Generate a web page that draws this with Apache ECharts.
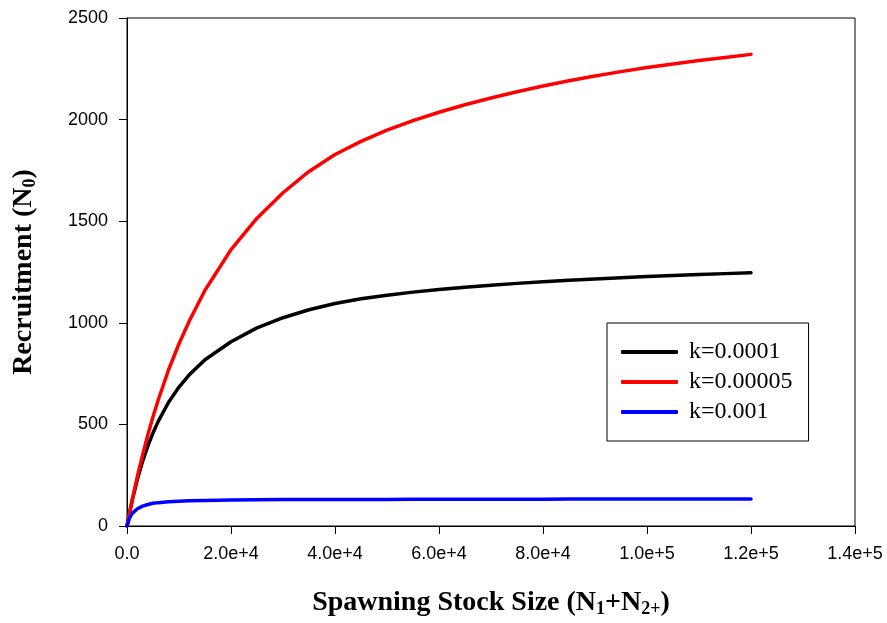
<!DOCTYPE html>
<html>
<head>
<meta charset="utf-8">
<title>Recruitment vs Spawning Stock Size</title>
<script src="https://cdn.jsdelivr.net/npm/echarts@6/dist/echarts.min.js"></script>
<style>
  html, body { margin: 0; padding: 0; background: #fff; }
  #chart { width: 887px; height: 623px; }
</style>
</head>
<body>
<div id="chart"></div>
<script>
// Spawning stock size (N1+N2+) at which recruitment was recorded
const stockSize = [0, 500, 1000, 2000, 3000, 4000, 5000, 6000, 8000, 10000, 12000, 15000,
  20000, 25000, 30000, 35000, 40000, 45000, 50000, 55000, 60000, 65000, 70000, 75000,
  80000, 85000, 90000, 95000, 100000, 105000, 110000, 115000, 120000];

// Recruitment (N0) for each density-dependence coefficient k
const recK0001 = [0, 66, 126, 230, 318, 393, 458, 515, 609, 684, 745, 818,
  907, 975, 1025, 1064, 1095, 1118, 1136, 1151, 1164, 1175, 1185, 1194,
  1202, 1209, 1216, 1222, 1228, 1233, 1238, 1242, 1246];
const recK00005 = [0, 65, 128, 244, 350, 448, 538, 620, 769, 897, 1010, 1160,
  1360, 1515, 1640, 1745, 1828, 1893, 1948, 1995, 2036, 2073, 2106, 2137,
  2165, 2191, 2215, 2236, 2256, 2274, 2291, 2306, 2321];
const recK001 = [0, 40, 62, 85, 98, 106, 112, 115, 119, 122, 124, 126,
  128, 129, 130, 130, 131, 131, 131, 132, 132, 132, 132, 132,
  132, 133, 133, 133, 133, 133, 133, 133, 133];

const seriesNames = ['k=0.0001', 'k=0.00005', 'k=0.001'];
const seriesColors = ['#000000', '#ff0000', '#0000ff'];
const seriesValues = [recK0001, recK00005, recK001];

// Axis tick labels
const xTickLabels = ['0.0', '2.0e+4', '4.0e+4', '6.0e+4', '8.0e+4', '1.0e+5', '1.2e+5', '1.4e+5'];
const xTickStep = 20000;
const yTickLabels = ['0', '500', '1000', '1500', '2000', '2500'];
const yTickStep = 500;

const chart = echarts.init(document.getElementById('chart'), null, { renderer: 'canvas' });

const tickFont = { fontFamily: 'Liberation Sans, Arial, sans-serif', fontSize: 18, color: '#000' };
const titleFont = 'Liberation Serif, Times New Roman, serif';
const subStyle = {
  fontFamily: titleFont, fontWeight: 'bold', fontSize: 18, color: '#000',
  verticalAlign: 'bottom', padding: [13, 0, 0, 0]
};

chart.setOption({
  animation: false,
  backgroundColor: '#ffffff',
  grid: {
    left: 127, right: 32, top: 18, bottom: 95,
    show: true, borderColor: '#000', borderWidth: 1, backgroundColor: 'transparent'
  },
  legend: {
    orient: 'vertical',
    left: 607, top: 323,
    padding: [17, 16, 17, 14],
    itemGap: 6,
    itemWidth: 57,
    itemHeight: 4,
    icon: 'roundRect',
    borderColor: '#000',
    borderWidth: 1,
    backgroundColor: '#fff',
    selectedMode: false,
    data: seriesNames,
    textStyle: {
      fontFamily: titleFont,
      fontSize: 24,
      color: '#000',
      padding: [0, 0, 0, 6]
    }
  },
  xAxis: {
    type: 'value',
    min: 0, max: 140000, interval: xTickStep,
    name: 'Spawning Stock Size (N{sub|1}+N{sub|2+})',
    nameLocation: 'middle',
    nameGap: 61,
    nameTextStyle: {
      fontFamily: titleFont, fontWeight: 'bold', fontSize: 28, color: '#000',
      rich: { sub: subStyle }
    },
    axisLine: { lineStyle: { color: '#000', width: 1 } },
    axisTick: { inside: false, length: 8, lineStyle: { color: '#000' } },
    axisLabel: Object.assign({
      margin: 19,
      formatter: v => xTickLabels[Math.round(v / xTickStep)]
    }, tickFont),
    splitLine: { show: false }
  },
  yAxis: {
    type: 'value',
    min: 0, max: 2500, interval: yTickStep,
    name: 'Recruitment (N{sub|0})',
    nameLocation: 'middle',
    nameGap: 88,
    nameRotate: 90,
    nameTextStyle: {
      fontFamily: titleFont, fontWeight: 'bold', fontSize: 28, color: '#000',
      rich: { sub: subStyle }
    },
    axisLine: { show: true, lineStyle: { color: '#000', width: 1 } },
    axisTick: { show: true, inside: false, length: 8, lineStyle: { color: '#000' } },
    axisLabel: Object.assign({
      margin: 19,
      formatter: v => yTickLabels[Math.round(v / yTickStep)]
    }, tickFont),
    splitLine: { show: false }
  },
  series: seriesNames.map((name, i) => ({
    name: name,
    type: 'line',
    data: stockSize.map((s, j) => [s, seriesValues[i][j]]),
    showSymbol: false,
    symbol: 'none',
    smooth: false,
    color: seriesColors[i],
    lineStyle: { color: seriesColors[i], width: 3.5, cap: 'round', join: 'round' },
    z: 2 + i
  }))
});
</script>
</body>
</html>
